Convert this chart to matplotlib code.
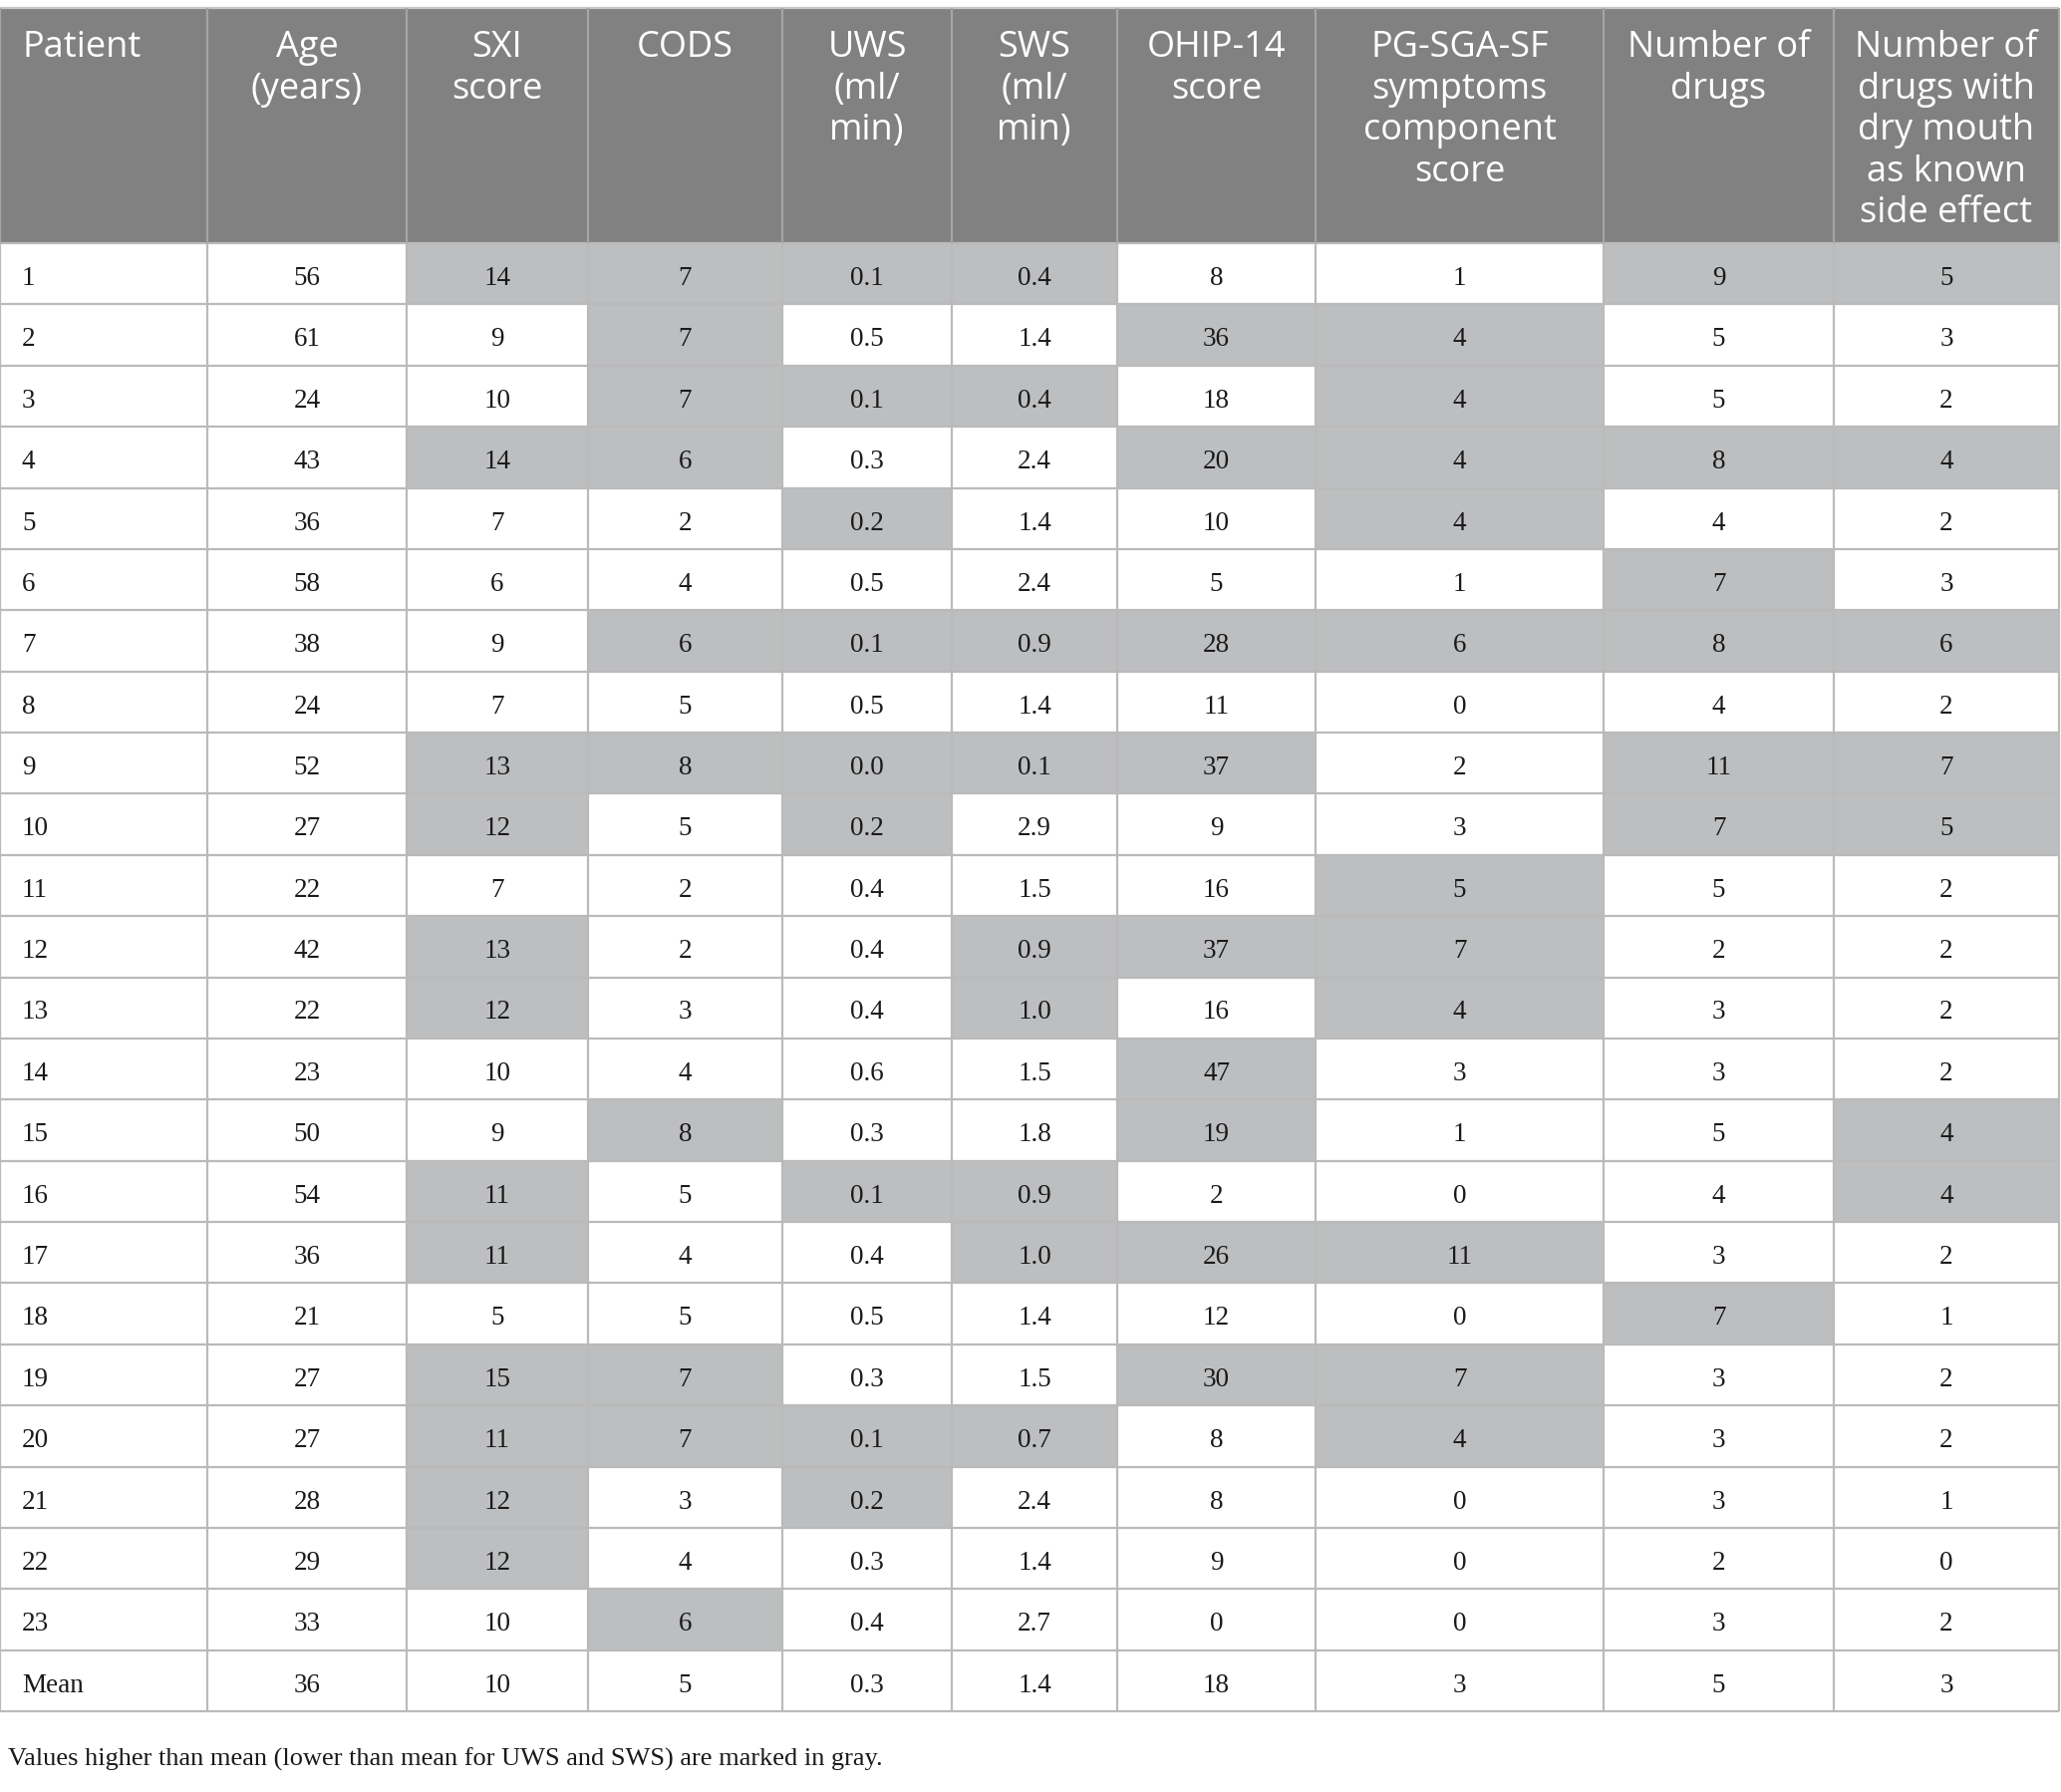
import matplotlib
matplotlib.use("Agg")
import matplotlib.pyplot as plt
from matplotlib.patches import Rectangle

# table content
headers = [["Patient"], ["Age", "(years)"], ["SXI", "score"], ["CODS"],
           ["UWS", "(ml/", "min)"], ["SWS", "(ml/", "min)"], ["OHIP-14", "score"],
           ["PG-SGA-SF", "symptoms", "component", "score"],
           ["Number of", "drugs"],
           ["Number of", "drugs with", "dry mouth", "as known", "side effect"]]
patients = [str(i) for i in range(1, 24)]
age = [56, 61, 24, 43, 36, 58, 38, 24, 52, 27, 22, 42, 22, 23, 50, 54, 36, 21, 27, 27, 28, 29, 33]
sxi = [14, 9, 10, 14, 7, 6, 9, 7, 13, 12, 7, 13, 12, 10, 9, 11, 11, 5, 15, 11, 12, 12, 10]
cods = [7, 7, 7, 6, 2, 4, 6, 5, 8, 5, 2, 2, 3, 4, 8, 5, 4, 5, 7, 7, 3, 4, 6]
uws = [0.1, 0.5, 0.1, 0.3, 0.2, 0.5, 0.1, 0.5, 0.0, 0.2, 0.4, 0.4, 0.4, 0.6, 0.3, 0.1, 0.4, 0.5, 0.3, 0.1, 0.2, 0.3, 0.4]
sws = [0.4, 1.4, 0.4, 2.4, 1.4, 2.4, 0.9, 1.4, 0.1, 2.9, 1.5, 0.9, 1.0, 1.5, 1.8, 0.9, 1.0, 1.4, 1.5, 0.7, 2.4, 1.4, 2.7]
ohip = [8, 36, 18, 20, 10, 5, 28, 11, 37, 9, 16, 37, 16, 47, 19, 2, 26, 12, 30, 8, 8, 9, 0]
pgsga = [1, 4, 4, 4, 4, 1, 6, 0, 2, 3, 5, 7, 4, 3, 1, 0, 11, 0, 7, 4, 0, 0, 0]
n_drugs = [9, 5, 5, 8, 4, 7, 8, 4, 11, 7, 5, 2, 3, 3, 5, 4, 3, 7, 3, 3, 3, 2, 3]
n_drymouth = [5, 3, 2, 4, 2, 3, 6, 2, 7, 5, 2, 2, 2, 2, 4, 4, 2, 1, 2, 2, 1, 0, 2]
means = [36, 10, 5, 0.3, 1.4, 18, 3, 5, 3]
footnote = "Values higher than mean (lower than mean for UWS and SWS) are marked in gray."

columns = [age, sxi, cods, uws, sws, ohip, pgsga, n_drugs, n_drymouth]
decimals = [0, 0, 0, 1, 1, 0, 0, 0, 0]
# 'high' = gray when above mean, 'low' = gray when below, None = never
mark = [None, "high", "high", "low", "low", "high", "high", "high", "high"]

# layout (pixels)
W, H = 2068, 1798
col_edges = [0, 208, 408, 590, 785, 955, 1121, 1320, 1609, 1840, 2066]
head_top, head_bot = 8, 244
table_bot = 1717
n_rows = len(patients) + 1
row_h = (table_bot - head_bot) / n_rows

HEAD_BG = "#808180"
MARK_BG = "#bdbec0"
LINE = "#bababa"
SANS = "Open Sans"
SERIF = "Liberation Serif"

fig = plt.figure(figsize=(W / 100, H / 100), dpi=100)
ax = fig.add_axes([0, 0, 1, 1])
ax.set_xlim(0, W)
ax.set_ylim(H, 0)
ax.axis("off")

# header
ax.add_patch(Rectangle((0, head_top), col_edges[-1], head_bot - head_top, color=HEAD_BG, lw=0))
for c, lines in enumerate(headers):
    x0, x1 = col_edges[c], col_edges[c + 1]
    for i, line in enumerate(lines):
        if c == 0:
            ax.text(x0 + 22, head_top + 49 + i * 41.6, line, ha="left", va="baseline",
                    color="white", fontsize=26, family=SANS)
        else:
            ax.text((x0 + x1) / 2, head_top + 49 + i * 41.6, line, ha="center", va="baseline",
                    color="white", fontsize=26, family=SANS)

# body
for r in range(n_rows):
    y = head_bot + r * row_h
    is_mean = r == len(patients)
    label = "Mean" if is_mean else patients[r]
    ax.text(col_edges[0] + 22, y + 42, label, ha="left", va="baseline",
            fontsize=19.5, family=SERIF, color="#1a1a1a")
    for c, vals in enumerate(columns):
        x0, x1 = col_edges[c + 1], col_edges[c + 2]
        v = means[c] if is_mean else vals[r]
        if not is_mean:
            m = mark[c]
            if (m == "high" and v > means[c]) or (m == "low" and v < means[c]):
                ax.add_patch(Rectangle((x0, y), x1 - x0, row_h, color=MARK_BG, lw=0))
        txt = f"{v:.{decimals[c]}f}"
        ax.text((x0 + x1) / 2, y + 42, txt, ha="center", va="baseline",
                fontsize=19.5, family=SERIF, color="#1a1a1a")

# grid lines
row_lines = [head_bot + r * row_h for r in range(n_rows + 1)]
ax.hlines(row_lines, 0, col_edges[-1], color=LINE, lw=1.6)
ax.hlines([head_top], 0, col_edges[-1], color="#c8c8c8", lw=1.6)
ax.vlines(col_edges, head_bot, table_bot, color=LINE, lw=1.6)
ax.vlines(col_edges, head_top, head_bot, color="#a4a5a4", lw=1.6)

ax.text(8, 1772, footnote, ha="left", va="baseline", fontsize=19, family=SERIF, color="#1a1a1a")

fig.savefig("out.png", dpi=100)
